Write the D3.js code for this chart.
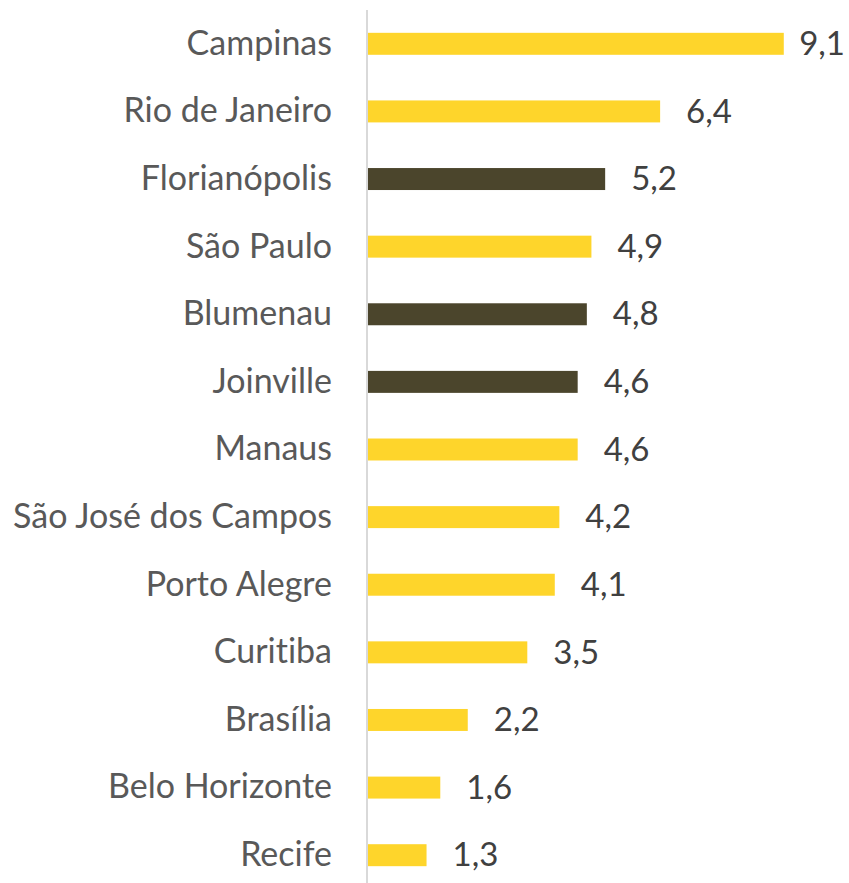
<!DOCTYPE html>
<html>
<head>
<meta charset="utf-8">
<script src="https://cdn.jsdelivr.net/npm/d3@7"></script>
<style>
  body { margin: 0; background: #fff; }
  #vis { width: 849px; height: 883px; }
  text { font-family: Lato, "Open Sans", sans-serif; font-variant-ligatures: none; }
</style>
</head>
<body>
<div id="vis"></div>
<script>
var cities = ['Campinas', 'Rio de Janeiro', 'Florianópolis', 'São Paulo', 'Blumenau',
    'Joinville', 'Manaus', 'São José dos Campos', 'Porto Alegre', 'Curitiba',
    'Brasília', 'Belo Horizonte', 'Recife'];
var values = [9.1, 6.4, 5.2, 4.9, 4.8, 4.6, 4.6, 4.2, 4.1, 3.5, 2.2, 1.6, 1.3];
var highlighted = ['Florianópolis', 'Blumenau', 'Joinville'];

var width = 849;
var height = 883;

var margin = {
    top: 10,
    left: 367,
    right: 4
};

var svg = d3.select('#vis')
    .append('svg')
    .attr('width', width)
    .attr('height', height);

var data = cities.map(function(c, i) {
    return { city: c, value: values[i] };
});

var y_scale = d3.scaleBand()
    .domain(cities)
    .range([margin.top, margin.top + 879])
    .paddingInner(0.675)
    .paddingOuter(0.3375);

var x_scale = d3.scaleLinear()
    .domain([0, 10])
    .range([margin.left, margin.left + 458]);

var g = svg.append('g');

// bars
g.selectAll('.bar')
    .data(data)
    .enter()
    .append('rect')
    .attr('class', 'bar')
    .attr('x', x_scale(0))
    .attr('y', function(d) { return y_scale(d.city); })
    .attr('width', function(d) { return x_scale(d.value) - x_scale(0); })
    .attr('height', y_scale.bandwidth())
    .attr('fill', function(d) {
        return highlighted.indexOf(d.city) >= 0 ? '#4b452c' : '#fed52b';
    });

// category axis
var y_axis = d3.axisLeft(y_scale).tickSize(0).tickPadding(35);
var axis_g = svg.append('g')
    .attr('transform', 'translate(' + x_scale(0) + ',0)')
    .call(y_axis);
axis_g.select('.domain')
    .attr('stroke', '#d9d9d9')
    .attr('stroke-width', 2)
    .attr('d', 'M0,' + margin.top + 'V' + height);
axis_g.selectAll('text')
    .attr('font-size', 34)
    .attr('font-family', 'Lato, "Open Sans", sans-serif')
    .attr('fill', '#595959')
    .attr('dy', '0.32em');

// value labels
var labels = g.selectAll('.label')
    .data(data)
    .enter()
    .append('text')
    .attr('class', 'label')
    .attr('y', function(d) { return y_scale(d.city) + y_scale.bandwidth() / 2; })
    .attr('dy', '0.34em')
    .attr('font-size', 33)
    .attr('fill', '#404040')
    .text(function(d) { return String(d.value).replace('.', ','); });

labels.attr('x', function(d) {
    var w = this.getComputedTextLength();
    return Math.min(x_scale(d.value) + 26, width - margin.right - w);
});
</script>
</body>
</html>
